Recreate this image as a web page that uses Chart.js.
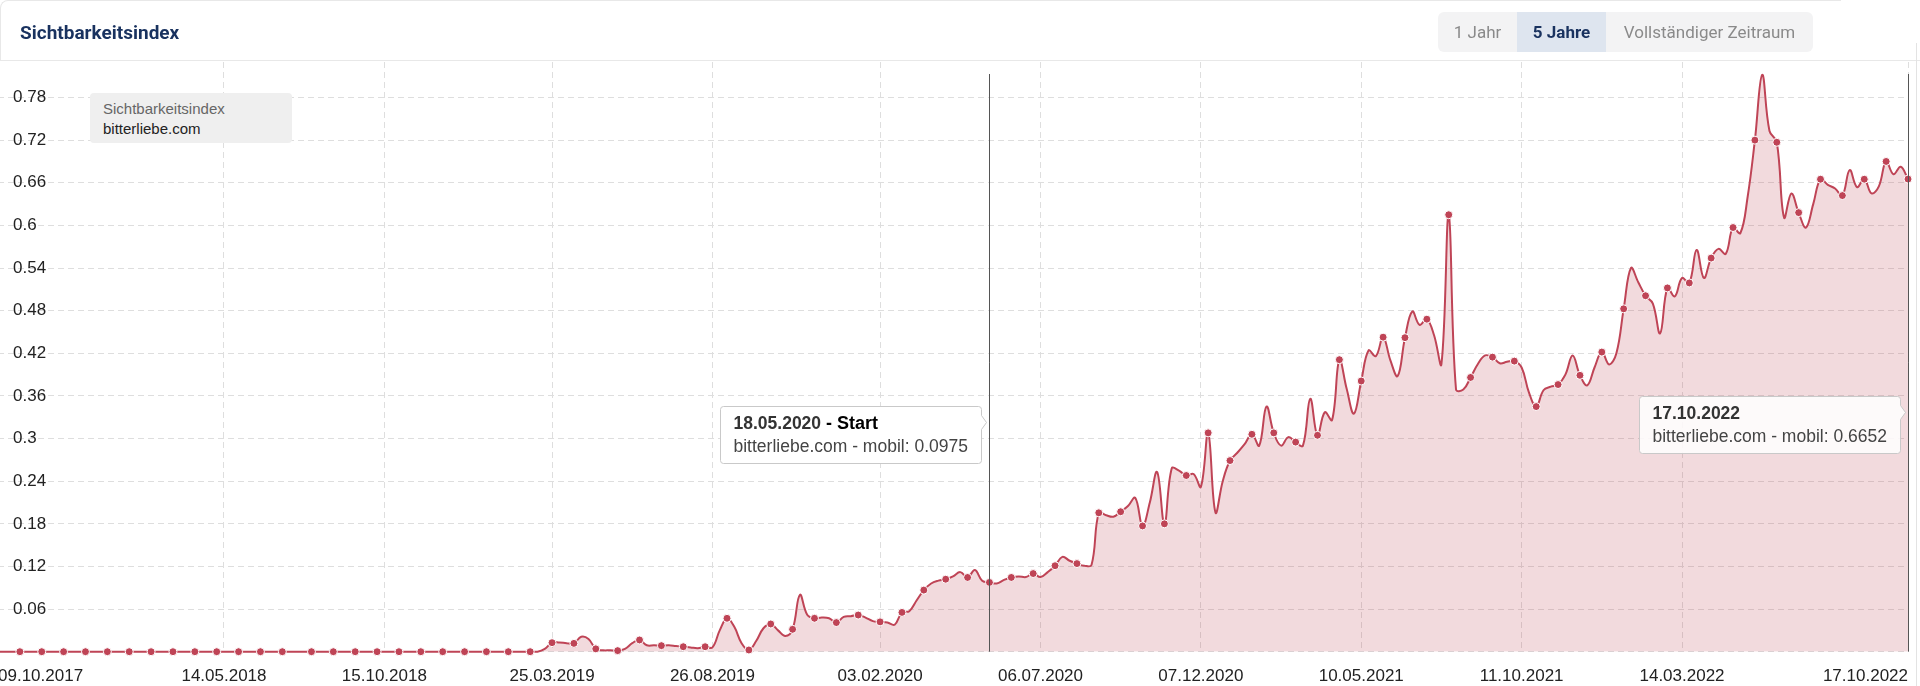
<!DOCTYPE html>
<html>
<head>
<meta charset="utf-8">
<script src="https://cdn.jsdelivr.net/npm/chart.js@4/dist/chart.umd.min.js"></script>
<style>
  html, body { margin: 0; padding: 0; background: #fff; }
  #wrap { position: relative; width: 1920px; height: 686px; overflow: hidden; font-family: Roboto, sans-serif; }
  #chart { position: absolute; left: -7px; top: 0; }
  #card { position: absolute; left: 0; top: 0; width: 1840px; height: 60px; border-top: 1px solid #e8e8e8; border-left: 1px solid #e8e8e8; border-top-left-radius: 8px; }
  #sep { position: absolute; left: 0; top: 60px; width: 1920px; height: 1px; background: #e8e8e8; }
  #edge { position: absolute; left: 1916px; top: 43px; width: 1px; height: 643px; background: #e3e3e3; }
  #title { position: absolute; left: 20px; top: 21px; font-size: 19px; font-weight: 700; color: #19325f; line-height: 24px; }
  #range { position: absolute; left: 1438px; top: 12px; width: 375px; height: 40px; background: #f3f3f4; border-radius: 6px; font-size: 17px; color: #8a8a8a; }
  #range span { position: absolute; top: 0; height: 40px; line-height: 40px; text-align: center; }
  #range .on { background: #dee5ef; color: #19325f; font-weight: 700; }
  #legendBox { position: absolute; left: 90px; top: 93px; width: 202px; height: 50px; background: #efefef; border-radius: 4px; font-family: "Liberation Sans", Arial, sans-serif; font-size: 15px; }
  #legendBox div { position: absolute; left: 13px; line-height: 18px; }
</style>
</head>
<body>
<div id="wrap">
  <canvas id="chart" width="1927" height="686"></canvas>
  <div id="card"></div>
  <div id="sep"></div>
  <div id="edge"></div>
  <div id="title">Sichtbarkeitsindex</div>
  <div id="range">
    <span style="left:0;width:79px;">1 Jahr</span>
    <span class="on" style="left:79px;width:89px;">5 Jahre</span>
    <span style="left:168px;width:207px;">Vollständiger Zeitraum</span>
  </div>
  <div id="legendBox">
    <div style="top:7px;color:#666;">Sichtbarkeitsindex</div>
    <div style="top:27px;color:#222;">bitterliebe.com</div>
  </div>
</div>
<script>
// weekly categories, starting Monday 09.10.2017
var startDate = Date.UTC(2017, 9, 9);
var weekCount = 263;
var categories = [];
for (var w = 0; w < weekCount; w++) {
  var d = new Date(startDate + w * 7 * 86400000);
  categories.push(('0' + d.getUTCDate()).slice(-2) + '.' + ('0' + (d.getUTCMonth() + 1)).slice(-2) + '.' + d.getUTCFullYear());
}

// Sichtbarkeitsindex mobil, bitterliebe.com (weekly)
var values = [
  0, 0, 0, 0, 0, 0, 0, 0, 0, 0,
  0, 0, 0, 0, 0, 0, 0, 0, 0, 0,
  0, 0, 0, 0, 0, 0, 0, 0, 0, 0,
  0, 0, 0, 0, 0, 0, 0, 0, 0, 0,
  0, 0, 0, 0, 0, 0, 0, 0, 0, 0,
  0, 0, 0, 0, 0, 0, 0, 0, 0, 0,
  0, 0, 0, 0, 0, 0, 0, 0, 0, 0,
  0, 0, 0, 0, 0, 0.004, 0.0127, 0.013, 0.012, 0.0117,
  0.021, 0.018, 0.004, 0.002, 0.002, 0.0015, 0.004, 0.012, 0.0165, 0.009,
  0.009, 0.0085, 0.009, 0.008, 0.007, 0.006, 0.005, 0.007, 0.006, 0.03,
  0.047, 0.035, 0.012, 0.0024, 0.015, 0.033, 0.039, 0.03, 0.022, 0.0315,
  0.08, 0.052, 0.047, 0.048, 0.047, 0.041, 0.049, 0.05, 0.0516, 0.048,
  0.043, 0.042, 0.041, 0.038, 0.0553, 0.057, 0.072, 0.0867, 0.096, 0.1,
  0.102, 0.106, 0.112, 0.1045, 0.115, 0.1, 0.0975, 0.096, 0.101, 0.1045,
  0.106, 0.105, 0.11, 0.105, 0.112, 0.121, 0.1335, 0.128, 0.124, 0.121,
  0.122, 0.1955, 0.192, 0.19, 0.197, 0.205, 0.2165, 0.177, 0.21, 0.253,
  0.18, 0.258, 0.255, 0.248, 0.25, 0.232, 0.308, 0.196, 0.24, 0.269,
  0.28, 0.292, 0.306, 0.29, 0.345, 0.308, 0.29, 0.302, 0.295, 0.29,
  0.356, 0.3046, 0.337, 0.326, 0.411, 0.37, 0.335, 0.381, 0.424, 0.416,
  0.4427, 0.41, 0.388, 0.442, 0.479, 0.46, 0.468, 0.445, 0.405, 0.615,
  0.369, 0.369, 0.386, 0.405, 0.417, 0.4146, 0.406, 0.408, 0.409, 0.4,
  0.365, 0.345, 0.368, 0.373, 0.376, 0.39, 0.417, 0.389, 0.375, 0.4,
  0.4217, 0.4044, 0.42, 0.4826, 0.54, 0.52, 0.501, 0.49, 0.448, 0.512,
  0.5, 0.526, 0.519, 0.5655, 0.526, 0.554, 0.567, 0.56, 0.597, 0.589,
  0.64, 0.72, 0.812, 0.733, 0.717, 0.611, 0.645, 0.618, 0.597, 0.63,
  0.665, 0.657, 0.652, 0.642, 0.678, 0.654, 0.665, 0.645, 0.655, 0.69,
  0.672, 0.6826, 0.6652
];

var xTickLabels = ['09.10.2017', '14.05.2018', '15.10.2018', '25.03.2019', '26.08.2019', '03.02.2020',
  '06.07.2020', '07.12.2020', '10.05.2021', '11.10.2021', '14.03.2022', '17.10.2022'];
var yTicks = [0, 0.06, 0.12, 0.18, 0.24, 0.3, 0.36, 0.42, 0.48, 0.54, 0.6, 0.66, 0.72, 0.78];

var siteName = 'bitterliebe.com';
var notes = [
  { date: '18.05.2020', suffix: ' - Start', top: 344, bg: '#ffffff' },
  { date: '17.10.2022', suffix: '', top: 334, bg: 'rgba(255,255,255,0.86)' }
];

var lineColor = '#bf4456';
var labelFont = '"Liberation Sans", Arial, sans-serif';

// markers sit on every third week (one week skipped in late 2018)
function hasDot(i) {
  if (i > 0 && i <= 39) return i % 3 === 0;
  if (i >= 43) return (i - 43) % 3 === 0;
  return false;
}

var overlay = {
  id: 'overlay',
  afterDatasetsDraw: function (chart) {
    var ctx = chart.ctx, area = chart.chartArea, x = chart.scales.x;
    ctx.save();
    ctx.strokeStyle = '#555';
    ctx.lineWidth = 1;
    notes.forEach(function (n) {
      var px = Math.round(x.getPixelForValue(categories.indexOf(n.date))) + 0.5;
      ctx.beginPath();
      ctx.moveTo(px, area.top + 12);
      ctx.lineTo(px, area.bottom);
      ctx.stroke();
    });
    ctx.restore();
  },
  afterDraw: function (chart) {
    var ctx = chart.ctx, area = chart.chartArea, x = chart.scales.x;
    notes.forEach(function (n) {
      var i = categories.indexOf(n.date);
      var px = x.getPixelForValue(i);
      var line2 = siteName + ' - mobil: ' + values[i].toFixed(4);
      ctx.save();
      ctx.font = 'bold 17.5px ' + labelFont;
      var wDate = ctx.measureText(n.date).width;
      var w1 = wDate;
      if (n.suffix) {
        ctx.font = 'bold 18px ' + labelFont;
        w1 += ctx.measureText(n.suffix).width;
      }
      ctx.font = '17.5px ' + labelFont;
      var w2 = ctx.measureText(line2).width;
      var w = Math.round(Math.max(w1, w2) + 27);
      var right = Math.round(px - 8) + 0.5, left = right - w;
      var top = Math.round(area.top + n.top) + 0.5, h = 57, bottom = top + h, r = 3;
      ctx.beginPath();
      ctx.moveTo(left + r, top);
      ctx.lineTo(right - r, top);
      ctx.arcTo(right, top, right, top + r, r);
      ctx.lineTo(right, top + 9);
      ctx.lineTo(right + 5, top + 16);
      ctx.lineTo(right, top + 23);
      ctx.lineTo(right, bottom - r);
      ctx.arcTo(right, bottom, right - r, bottom, r);
      ctx.lineTo(left + r, bottom);
      ctx.arcTo(left, bottom, left, bottom - r, r);
      ctx.lineTo(left, top + r);
      ctx.arcTo(left, top, left + r, top, r);
      ctx.closePath();
      ctx.fillStyle = n.bg;
      ctx.fill();
      ctx.strokeStyle = '#c9c9c9';
      ctx.lineWidth = 1;
      ctx.stroke();
      ctx.textBaseline = 'middle';
      ctx.textAlign = 'left';
      ctx.font = 'bold 17.5px ' + labelFont;
      ctx.fillStyle = '#333';
      ctx.fillText(n.date, left + 13, top + 18);
      if (n.suffix) {
        ctx.font = 'bold 18px ' + labelFont;
        ctx.fillStyle = '#000';
        ctx.fillText(n.suffix, left + 13 + wDate, top + 18);
      }
      ctx.font = '17.5px ' + labelFont;
      ctx.fillStyle = '#444';
      ctx.fillText(line2, left + 13, top + 41);
      ctx.restore();
    });
  }
};

var ctx = document.getElementById('chart').getContext('2d');
var myChart = new Chart(ctx, {
  type: 'line',
  data: {
    labels: categories,
    datasets: [{
      label: siteName,
      data: values,
      borderColor: lineColor,
      borderWidth: 2,
      backgroundColor: 'rgba(191, 68, 86, 0.2)',
      fill: 'origin',
      tension: 0.4,
      pointRadius: function (c) { return hasDot(c.dataIndex) ? 4 : 0; },
      pointBackgroundColor: lineColor,
      pointBorderColor: '#fff',
      pointBorderWidth: 1,
      clip: 8
    }]
  },
  options: {
    responsive: false,
    animation: false,
    events: [],
    layout: { padding: { top: 62, right: 12, left: 0, bottom: 0 } },
    plugins: { legend: { display: false }, tooltip: { enabled: false } },
    scales: {
      x: {
        type: 'category',
        offset: false,
        afterBuildTicks: function (scale) {
          scale.ticks = xTickLabels.map(function (l) { return { value: categories.indexOf(l) }; });
        },
        afterFit: function (scale) {
          scale.height = 34.3;
          scale.paddingLeft = 0;
          scale.paddingRight = 0;
        },
        grid: {
          drawTicks: false,
          color: function (c) { return c.tick && c.tick.value === 0 ? 'rgba(0,0,0,0)' : '#dedede'; }
        },
        border: { display: false, dash: [6, 4] },
        ticks: {
          autoSkip: false,
          maxRotation: 0,
          align: 'inner',
          padding: 14,
          color: '#222',
          font: { family: labelFont, size: 17 }
        }
      },
      y: {
        min: 0,
        max: 0.83,
        afterBuildTicks: function (scale) {
          scale.ticks = yTicks.map(function (v) { return { value: v }; });
        },
        afterFit: function (scale) {
          scale.width = 0;
          scale.paddingTop = 0;
          scale.paddingBottom = 0;
        },
        grid: { drawTicks: false, color: '#dedede' },
        border: { display: false, dash: [6, 4] },
        ticks: {
          mirror: true,
          padding: 15,
          color: '#222',
          font: { family: labelFont, size: 17 },
          callback: function (v) { return v === 0 ? '' : String(+v.toFixed(2)); }
        }
      }
    }
  },
  plugins: [overlay]
});
</script>
</body>
</html>
